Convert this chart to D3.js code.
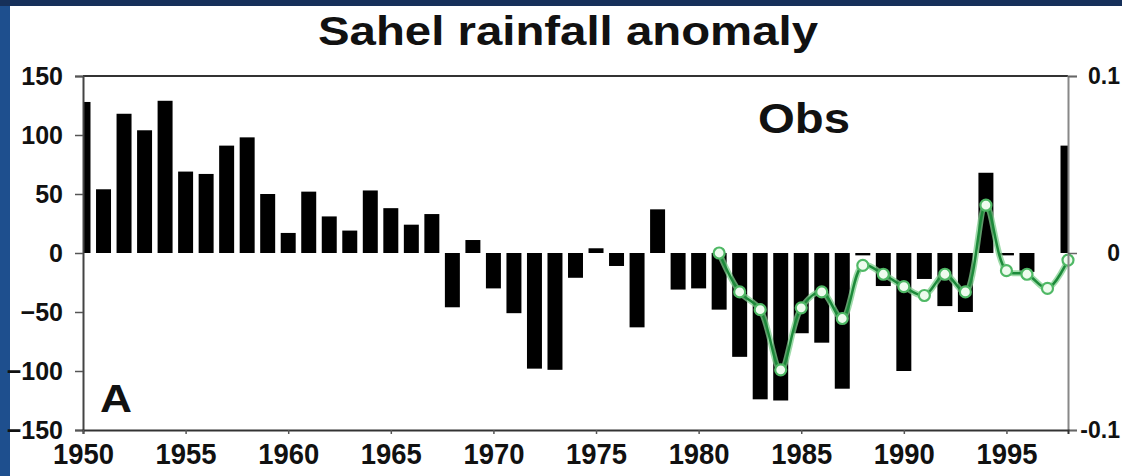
<!DOCTYPE html>
<html>
<head>
<meta charset="utf-8">
<script src="https://cdn.jsdelivr.net/npm/d3@7"></script>
<style>
  html, body { margin: 0; padding: 0; background: #ffffff; }
  svg { display: block; }
  text { font-family: "Liberation Sans", Arial, Helvetica, sans-serif; font-weight: bold; fill: #111; }
</style>
</head>
<body>
<svg id="chart" width="1122" height="476"></svg>
<script>
// ---- data ----
const years = d3.range(1950, 1999);
const rainfall = [128, 54, 118, 104, 129, 69, 67, 91, 98, 50,
                  17, 52, 31, 19, 53, 38, 24, 33, -46, 11,
                  -30, -51, -98, -99, -21, 4, -11, -63, 37, -31,
                  -30, -48, -88, -124, -125, -68, -76, -115, -2, -28,
                  -100, -22, -45, -50, 68, -2, -16, 0, 91];
const modelYears = d3.range(1981, 1999);
const modelValues = [0.000, -0.022, -0.032, -0.066, -0.031, -0.022, -0.037, -0.007, -0.012,
                     -0.019, -0.024, -0.012, -0.022, 0.027, -0.010, -0.012, -0.020, -0.004];
const xTicks = [1950, 1955, 1960, 1965, 1970, 1975, 1980, 1985, 1990, 1995];
const leftTicks = [150, 100, 50, 0, -50, -100, -150];
const rightTicks = [0.1, 0, -0.1];
const rightTickLabels = ["0.1", "0", "-0.1"];

// ---- layout ----
const W = 1122, H = 476;
const L = 83, R = 1068, T = 76, B = 430;
const svg = d3.select("#chart");

// blue frame background
svg.append("rect").attr("x", 0).attr("y", 0).attr("width", W).attr("height", H).attr("fill", "#1e4f8e");
svg.append("rect").attr("x", 0).attr("y", 0).attr("width", W).attr("height", 6).attr("fill", "#16305a");
svg.append("rect").attr("x", 10).attr("y", 6).attr("width", W - 10).attr("height", H - 6).attr("fill", "#ffffff");

const x = d3.scaleLinear().domain([1950, 1998]).range([L, R]);
const yL = d3.scaleLinear().domain([-150, 150]).range([B, T]);
const yR = d3.scaleLinear().domain([-0.1, 0.1]).range([B, T]);

svg.append("clipPath").attr("id", "plotclip")
  .append("rect").attr("x", L).attr("y", T).attr("width", R - L).attr("height", B - T);

// bars
const bw = (x(1951) - x(1950)) * 0.73;
svg.append("g").attr("clip-path", "url(#plotclip)")
  .selectAll("rect").data(years).join("rect")
  .attr("x", (d) => x(d) - bw / 2)
  .attr("width", bw)
  .attr("y", (d, i) => Math.min(yL(rainfall[i]), yL(0)))
  .attr("height", (d, i) => Math.abs(yL(rainfall[i]) - yL(0)))
  .attr("fill", "#000");

// green model line
const pts = modelYears.map((yr, i) => [yr, modelValues[i]]);
const line = d3.line().x((d) => x(d[0])).y((d) => yR(d[1])).curve(d3.curveCatmullRom.alpha(0.5));
svg.append("path").datum(pts).attr("d", line)
  .attr("fill", "none").attr("stroke", "#7fcf8e").attr("stroke-width", 6).attr("opacity", 0.75);
svg.append("path").datum(pts).attr("d", line)
  .attr("fill", "none").attr("stroke", "#1c8a3a").attr("stroke-width", 2.5);
svg.append("g").selectAll("circle").data(pts).join("circle")
  .attr("cx", (d) => x(d[0])).attr("cy", (d) => yR(d[1])).attr("r", 5.5)
  .attr("fill", "#eefbee").attr("stroke", "#4fb865").attr("stroke-width", 2.2);

// frame
svg.append("line").attr("x1", L).attr("x2", R).attr("y1", T).attr("y2", T).attr("stroke", "#333").attr("stroke-width", 2);

// left axis
const gL = svg.append("g").attr("transform", `translate(${L},0)`)
  .call(d3.axisLeft(yL).tickValues(leftTicks).tickSize(8).tickPadding(12).tickFormat(d3.format("d")));
gL.select(".domain").attr("stroke", "#444").attr("stroke-width", 2);
gL.selectAll(".tick line").attr("stroke", "#555").attr("stroke-width", 1.5);
gL.selectAll("text").attr("font-size", 25).attr("fill", "#111").attr("font-family", null);

// right axis
const gR = svg.append("g").attr("transform", `translate(${R},0)`)
  .call(d3.axisRight(yR).tickValues(rightTicks).tickSize(9).tickFormat((d, i) => rightTickLabels[i]));
gR.select(".domain").attr("stroke", "#888").attr("stroke-width", 2);
gR.selectAll(".tick line").attr("stroke", "#666").attr("stroke-width", 1.5);
gR.selectAll("text").attr("font-size", 23).attr("fill", "#111").attr("font-family", null)
  .attr("text-anchor", "end").attr("x", 1120 - R);

// bottom axis
const gB = svg.append("g").attr("transform", `translate(0,${B})`)
  .call(d3.axisBottom(x).tickValues(xTicks).tickSize(4).tickFormat(d3.format("d")));
gB.select(".domain").attr("stroke", "#333").attr("stroke-width", 2);
gB.selectAll(".tick line").attr("stroke", "#555").attr("stroke-width", 1.5);
gB.selectAll("text").attr("font-size", 30).attr("fill", "#111").attr("font-family", null)
  .attr("dy", 0).attr("y", 34)
  .attr("textLength", 61).attr("lengthAdjust", "spacingAndGlyphs");

// titles
svg.append("text").attr("x", 318).attr("y", 45).attr("font-size", 41)
  .attr("textLength", 500).attr("lengthAdjust", "spacingAndGlyphs")
  .text("Sahel rainfall anomaly");
svg.append("text").attr("x", 758).attr("y", 133).attr("font-size", 42)
  .attr("textLength", 92).attr("lengthAdjust", "spacingAndGlyphs")
  .text("Obs");
svg.append("text").attr("x", 100).attr("y", 412).attr("font-size", 38)
  .attr("textLength", 32).attr("lengthAdjust", "spacingAndGlyphs")
  .text("A");
</script>
</body>
</html>
